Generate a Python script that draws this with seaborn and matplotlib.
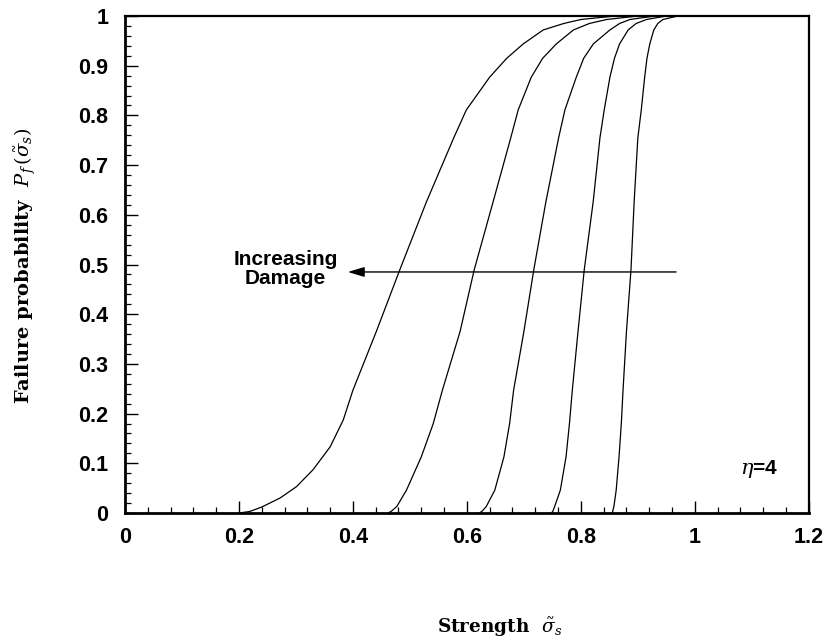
import numpy as np
import pandas as pd
import matplotlib
matplotlib.use("Agg")
import matplotlib.pyplot as plt
import seaborn as sns
from matplotlib.ticker import MultipleLocator

# ---- data (strength, failure probability) ----
c1_x = [0.200, 0.219, 0.240, 0.272, 0.301, 0.330, 0.360, 0.383, 0.400, 0.441, 0.4825,
        0.529, 0.577, 0.599, 0.640, 0.670, 0.699, 0.734, 0.770, 0.800, 0.860]
c1_y = [0.000, 0.003, 0.012, 0.030, 0.053, 0.087, 0.133, 0.187, 0.247, 0.365, 0.490,
        0.626, 0.755, 0.811, 0.877, 0.915, 0.944, 0.972, 0.985, 0.993, 1.000]
c2_x = [0.462, 0.468, 0.477, 0.494, 0.520, 0.541, 0.557, 0.588, 0.613, 0.646, 0.677,
        0.690, 0.713, 0.733, 0.757, 0.787, 0.815, 0.845, 0.900]
c2_y = [0.000, 0.004, 0.013, 0.046, 0.113, 0.180, 0.247, 0.365, 0.490, 0.626, 0.755,
        0.811, 0.877, 0.915, 0.944, 0.972, 0.985, 0.993, 1.000]
c3_x = [0.622, 0.627, 0.634, 0.649, 0.665, 0.675, 0.682, 0.700, 0.7175, 0.7386, 0.761,
        0.772, 0.792, 0.805, 0.822, 0.851, 0.868, 0.886, 0.930]
c3_y = [0.000, 0.004, 0.013, 0.046, 0.113, 0.180, 0.247, 0.365, 0.490, 0.626, 0.755,
        0.811, 0.877, 0.915, 0.944, 0.972, 0.985, 0.993, 1.000]
c4_x = [0.7485, 0.751, 0.754, 0.764, 0.774, 0.780, 0.785, 0.795, 0.806, 0.8216, 0.8335,
        0.841, 0.851, 0.859, 0.868, 0.883, 0.897, 0.915, 0.950]
c4_y = [0.000, 0.004, 0.013, 0.046, 0.113, 0.180, 0.247, 0.365, 0.490, 0.626, 0.755,
        0.811, 0.877, 0.915, 0.944, 0.972, 0.985, 0.993, 1.000]
c5_x = [0.855, 0.856, 0.858, 0.862, 0.867, 0.871, 0.874, 0.880, 0.888, 0.8935, 0.900,
        0.906, 0.912, 0.916, 0.921, 0.928, 0.935, 0.944, 0.970]
c5_y = [0.000, 0.004, 0.013, 0.046, 0.113, 0.180, 0.247, 0.365, 0.490, 0.626, 0.755,
        0.811, 0.877, 0.915, 0.944, 0.972, 0.985, 0.993, 1.000]
curve_names = ["c1", "c2", "c3", "c4", "c5"]
x_ticks = [0, 0.2, 0.4, 0.6, 0.8, 1.0, 1.2]
x_tick_labels = ["0", "0.2", "0.4", "0.6", "0.8", "1", "1.2"]
y_ticks = [0, 0.1, 0.2, 0.3, 0.4, 0.5, 0.6, 0.7, 0.8, 0.9, 1.0]
y_tick_labels = ["0", "0.1", "0.2", "0.3", "0.4", "0.5", "0.6", "0.7", "0.8", "0.9", "1"]

frames = []
for name, xs, ys in zip(curve_names, [c1_x, c2_x, c3_x, c4_x, c5_x],
                        [c1_y, c2_y, c3_y, c4_y, c5_y]):
    frames.append(pd.DataFrame({"strength": xs, "prob": ys, "curve": name}))
df = pd.concat(frames, ignore_index=True)

sns.set_style("ticks")
plt.rcParams["font.family"] = ["Liberation Sans", "DejaVu Sans"]
plt.rcParams["mathtext.fontset"] = "dejavuserif"
for key in ["text.color", "xtick.color", "ytick.color", "axes.labelcolor",
            "axes.edgecolor", "xtick.labelcolor", "ytick.labelcolor"]:
    plt.rcParams[key] = "black"

fig = plt.figure(figsize=(8.27, 6.41), dpi=100)
ax = fig.add_axes([0.1511, 0.1997, 0.978 - 0.1511, 0.975 - 0.1997])

sns.lineplot(data=df, x="strength", y="prob", hue="curve", units="curve",
             estimator=None, sort=False, palette=["black"] * 5, linewidth=0.9,
             legend=False, ax=ax)

ax.set_xlim(0, 1.2)
ax.set_ylim(0, 1.0)
ax.set_xticks(x_ticks)
ax.set_xticklabels(x_tick_labels, fontweight="bold")
ax.set_yticks(y_ticks)
ax.set_yticklabels(y_tick_labels, fontweight="bold")
ax.xaxis.set_minor_locator(MultipleLocator(0.04))
ax.yaxis.set_minor_locator(MultipleLocator(0.02))
ax.tick_params(which="major", direction="in", length=9, width=1.0, labelsize=15.5,
               top=False, right=False, color="black", labelcolor="black")
ax.tick_params(axis="x", which="major", pad=10)
ax.tick_params(axis="y", which="major", pad=12)
ax.tick_params(which="minor", direction="in", length=4.5, width=0.9,
               top=False, right=False, color="black")
for side in ["left", "bottom"]:
    ax.spines[side].set_linewidth(2.0)
for side in ["top", "right"]:
    ax.spines[side].set_linewidth(1.6)
for s in ax.spines.values():
    s.set_color("black")

ax.set_xlabel("")
ax.set_ylabel("")

# axis labels
fig.text(437 / 827, 1 - 627 / 641, r"Strength  $\tilde{\sigma}_s$",
         family=["DejaVu Serif"], weight="bold", fontsize=13.3,
         ha="left", va="center", color="black")
fig.text(25 / 827, 1 - 266 / 641, r"Failure probability  $P_f\,(\tilde{\sigma}_s)$",
         family=["DejaVu Serif"], weight="bold", fontsize=14,
         rotation=90, ha="center", va="center", color="black")

# annotations
ax.annotate("", xy=(0.391, 0.485), xytext=(0.967, 0.485),
            arrowprops=dict(arrowstyle="-|>,head_length=1.0,head_width=0.3",
                            color="black", lw=1.0, shrinkA=0, shrinkB=0))
ax.text(0.282, 0.49, "Increasing\nDamage", fontsize=15, fontweight="bold",
        ha="center", va="center", linespacing=1.0, color="black")
ax.text(1.112, 0.088, r"$\eta$=4", fontsize=15, fontweight="bold",
        ha="center", va="center", color="black")

fig.savefig("out.png", dpi=100)
